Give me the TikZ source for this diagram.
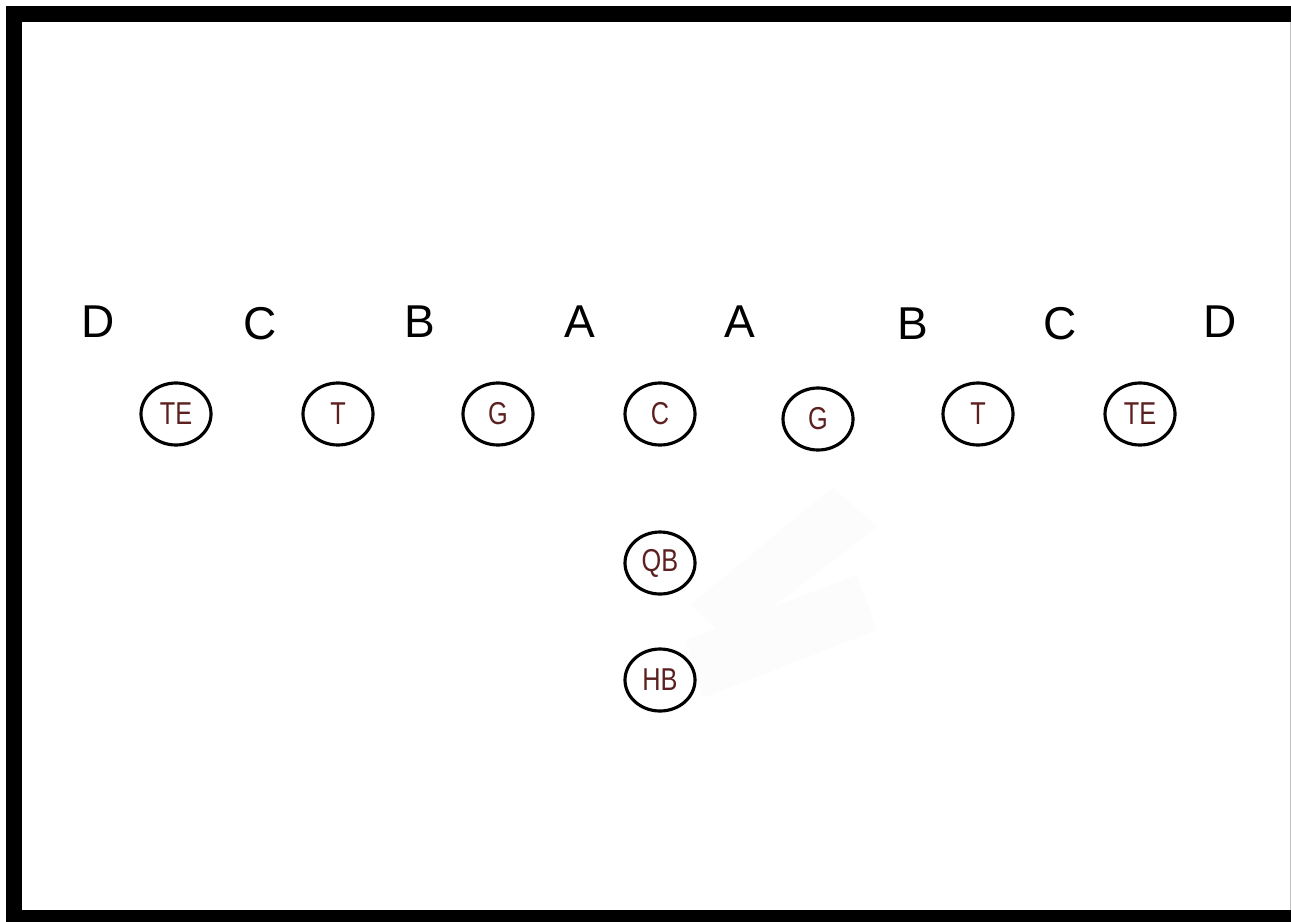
\documentclass[tikz,border=0pt]{standalone}
\usepackage{fontspec}
\setmainfont{Liberation Sans}
\newfontfamily\narrowfont[FakeStretch=0.8]{Liberation Sans}
\usetikzlibrary{shapes.geometric}
\definecolor{plyrtext}{RGB}{92,32,32}
\tikzset{
	gap/.style = {inner sep=0pt, font=\fontsize{13.1}{14}\selectfont},
	plyr/.style = {draw, ellipse, line width=0.9pt, minimum width=0.70cm, minimum height=0.62cm,
		inner sep=0pt, text=plyrtext, font=\narrowfont\fontsize{9}{10}\selectfont}
}
\begin{document}
\begin{tikzpicture}
	\useasboundingbox (0,0) rectangle (12.91,-9.21);
	\clip (0,0) rectangle (12.91,-9.21);
	% frame
	\draw [line width=0.16cm] (0.14,-0.14) rectangle (12.995,-9.18);
	\draw [black!25, line width=0.3pt] (12.905,-0.22) -- (12.905,-9.10);
	% faint mark near the backs
	\fill [black!1] (8.33,-4.87) -- (8.77,-5.27) -- (7.30,-6.40) -- (6.90,-6.05) -- cycle;
	\fill [black!1] (6.85,-6.40) -- (8.57,-5.75) -- (8.77,-6.30) -- (7.03,-6.98) -- cycle;
	% gaps
	\node [gap] (gapDl) at (0.98,-3.22) {D};
	\node [gap] (gapCl) at (2.60,-3.24) {C};
	\node [gap] (gapBl) at (4.20,-3.22) {B};
	\node [gap] (gapAl) at (5.80,-3.22) {A};
	\node [gap] (gapAr) at (7.40,-3.22) {A};
	\node [gap] (gapBr) at (9.13,-3.24) {B};
	\node [gap] (gapCr) at (10.60,-3.24) {C};
	\node [gap] (gapDr) at (12.20,-3.22) {D};
	% line
	\node [plyr] (teL) at (1.76,-4.14) {TE};
	\node [plyr] (tL) at (3.38,-4.14) {T};
	\node [plyr] (gL) at (4.98,-4.14) {G};
	\node [plyr] (cen) at (6.60,-4.14) {C};
	\node [plyr] (gR) at (8.18,-4.19) {G};
	\node [plyr] (tR) at (9.78,-4.14) {T};
	\node [plyr] (teR) at (11.40,-4.14) {TE};
	% backs
	\node [plyr] (qb) at (6.60,-5.63) {QB};
	\node [plyr] (hb) at (6.60,-6.80) {HB};
\end{tikzpicture}
\end{document}
